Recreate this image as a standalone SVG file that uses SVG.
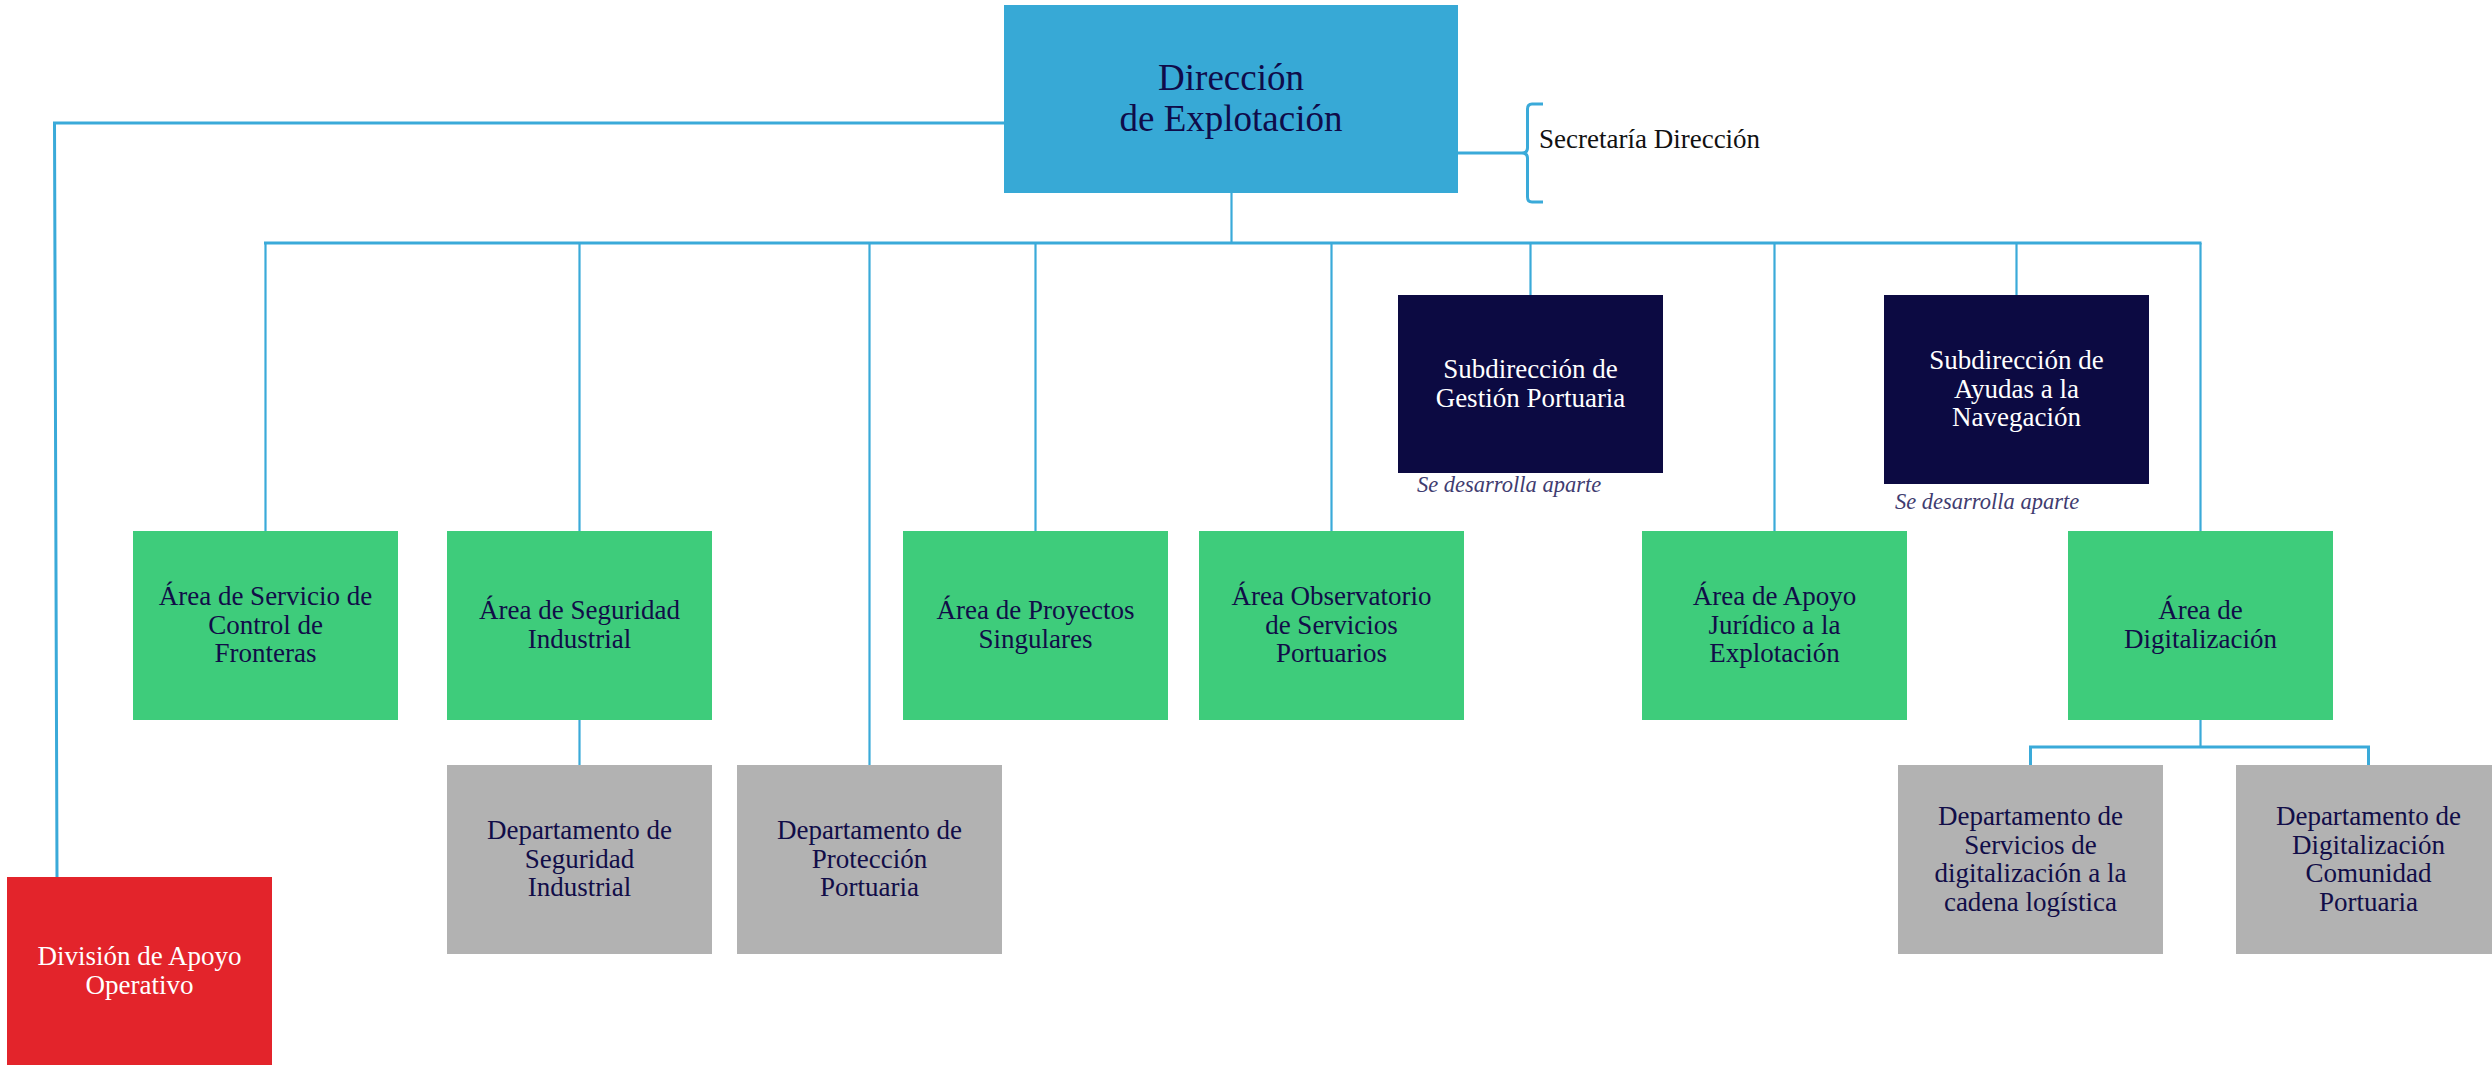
<svg xmlns="http://www.w3.org/2000/svg" width="2492" height="1065" viewBox="0 0 2492 1065">
<style>
.t{font-family:"Liberation Serif","Times New Roman",serif;text-anchor:middle;}
.lbl{font-size:27px;fill:#110d48;}
.wl{font-size:27px;fill:#ffffff;}
.dirt{font-size:37px;fill:#0f0c4a;}
.note{font-family:"Liberation Serif","Times New Roman",serif;font-style:italic;font-size:22.5px;fill:#3f3c70;}
.sec{font-family:"Liberation Serif","Times New Roman",serif;font-size:27px;fill:#111111;}
.blue{fill:#37a9d6;}
.green{fill:#3ecc7b;}
.grey{fill:#b2b2b2;}
.navy{fill:#0c0a42;}
.red{fill:#e3242b;}
.ln{stroke:#3aaad9;fill:none;stroke-width:2.2;}
.bus{stroke:#3aaad9;fill:none;stroke-width:3;}
</style>
<rect width="2492" height="1065" fill="#ffffff"/>
<g id="connectors">
<polyline class="bus" points="1004,123 54.5,123 57,877"/>
<line class="ln" x1="1231.5" y1="193" x2="1231.5" y2="243"/>
<line class="bus" x1="264" y1="243" x2="2201.5" y2="243"/>
<line class="ln" x1="265.5" y1="243" x2="265.5" y2="531"/>
<line class="ln" x1="579.5" y1="243" x2="579.5" y2="531"/>
<line class="ln" x1="869.5" y1="243" x2="869.5" y2="765"/>
<line class="ln" x1="1035.5" y1="243" x2="1035.5" y2="531"/>
<line class="ln" x1="1331.5" y1="243" x2="1331.5" y2="531"/>
<line class="ln" x1="1530.5" y1="243" x2="1530.5" y2="295"/>
<line class="ln" x1="1774.5" y1="243" x2="1774.5" y2="531"/>
<line class="ln" x1="2016.5" y1="243" x2="2016.5" y2="295"/>
<line class="ln" x1="2200.5" y1="243" x2="2200.5" y2="531"/>
<line class="ln" x1="579.5" y1="720" x2="579.5" y2="765"/>
<line class="ln" x1="2200.5" y1="720" x2="2200.5" y2="747"/>
<polyline class="bus" points="2030.5,765 2030.5,747 2368.5,747 2368.5,765"/>
<line class="bus" x1="1458" y1="153" x2="1522" y2="153"/>
<path class="bus" d="M1543,104 L1532,104 Q1527.5,104 1527.5,109 L1527.5,148 Q1527.5,153 1522,153 Q1527.5,153 1527.5,158 L1527.5,197 Q1527.5,202 1532,202 L1543,202"/>
</g>
<g id="n-direccion">
<rect class="blue" x="1004" y="5" width="454" height="188"/>
<text class="t dirt" x="1231" y="90">Dirección</text>
<text class="t dirt" x="1231" y="131">de Explotación</text>
</g>
<g id="n-secretaria">
<text class="sec" x="1539" y="148">Secretaría Dirección</text>
</g>
<g id="n-sub-gestion">
<rect class="navy" x="1398" y="295" width="265" height="178"/>
<text class="t wl" x="1530.5" y="378">Subdirección de</text>
<text class="t wl" x="1530.5" y="407">Gestión Portuaria</text>
<text class="note" x="1417" y="492">Se desarrolla aparte</text>
</g>
<g id="n-sub-ayudas">
<rect class="navy" x="1884" y="295" width="265" height="189"/>
<text class="t wl" x="2016.5" y="369">Subdirección de</text>
<text class="t wl" x="2016.5" y="397.5">Ayudas a la</text>
<text class="t wl" x="2016.5" y="426">Navegación</text>
<text class="note" x="1895" y="509">Se desarrolla aparte</text>
</g>
<g id="n-area-fronteras">
<rect class="green" x="133" y="531" width="265" height="189"/>
<text class="t lbl" x="265.5" y="605">Área de Servicio de</text>
<text class="t lbl" x="265.5" y="633.5">Control de</text>
<text class="t lbl" x="265.5" y="662">Fronteras</text>
</g>
<g id="n-area-seguridad">
<rect class="green" x="447" y="531" width="265" height="189"/>
<text class="t lbl" x="579.5" y="619">Área de Seguridad</text>
<text class="t lbl" x="579.5" y="647.5">Industrial</text>
</g>
<g id="n-area-proyectos">
<rect class="green" x="903" y="531" width="265" height="189"/>
<text class="t lbl" x="1035.5" y="619">Área de Proyectos</text>
<text class="t lbl" x="1035.5" y="647.5">Singulares</text>
</g>
<g id="n-area-observatorio">
<rect class="green" x="1199" y="531" width="265" height="189"/>
<text class="t lbl" x="1331.5" y="605">Área Observatorio</text>
<text class="t lbl" x="1331.5" y="633.5">de Servicios</text>
<text class="t lbl" x="1331.5" y="662">Portuarios</text>
</g>
<g id="n-area-juridico">
<rect class="green" x="1642" y="531" width="265" height="189"/>
<text class="t lbl" x="1774.5" y="605">Área de Apoyo</text>
<text class="t lbl" x="1774.5" y="633.5">Jurídico a la</text>
<text class="t lbl" x="1774.5" y="662">Explotación</text>
</g>
<g id="n-area-digitalizacion">
<rect class="green" x="2068" y="531" width="265" height="189"/>
<text class="t lbl" x="2200.5" y="619">Área de</text>
<text class="t lbl" x="2200.5" y="647.5">Digitalización</text>
</g>
<g id="n-dep-seguridad">
<rect class="grey" x="447" y="765" width="265" height="189"/>
<text class="t lbl" x="579.5" y="839">Departamento de</text>
<text class="t lbl" x="579.5" y="867.5">Seguridad</text>
<text class="t lbl" x="579.5" y="896">Industrial</text>
</g>
<g id="n-dep-proteccion">
<rect class="grey" x="737" y="765" width="265" height="189"/>
<text class="t lbl" x="869.5" y="839">Departamento de</text>
<text class="t lbl" x="869.5" y="867.5">Protección</text>
<text class="t lbl" x="869.5" y="896">Portuaria</text>
</g>
<g id="n-dep-servicios-dig">
<rect class="grey" x="1898" y="765" width="265" height="189"/>
<text class="t lbl" x="2030.5" y="825">Departamento de</text>
<text class="t lbl" x="2030.5" y="853.5">Servicios de</text>
<text class="t lbl" x="2030.5" y="882">digitalización a la</text>
<text class="t lbl" x="2030.5" y="910.5">cadena logística</text>
</g>
<g id="n-dep-comunidad">
<rect class="grey" x="2236" y="765" width="265" height="189"/>
<text class="t lbl" x="2368.5" y="825">Departamento de</text>
<text class="t lbl" x="2368.5" y="853.5">Digitalización</text>
<text class="t lbl" x="2368.5" y="882">Comunidad</text>
<text class="t lbl" x="2368.5" y="910.5">Portuaria</text>
</g>
<g id="n-division">
<rect class="red" x="7" y="877" width="265" height="189"/>
<text class="t wl" x="139.5" y="965">División de Apoyo</text>
<text class="t wl" x="139.5" y="993.5">Operativo</text>
</g>
</svg>
